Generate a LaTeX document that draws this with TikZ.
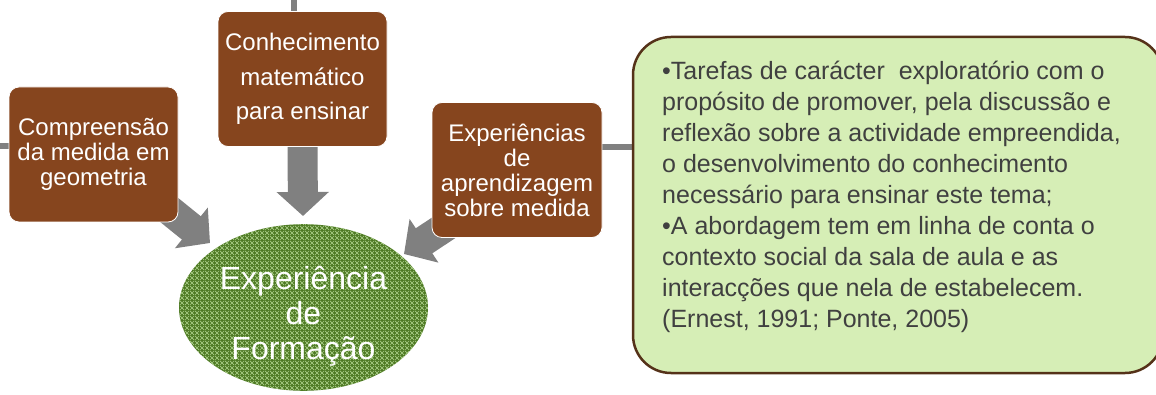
\documentclass[tikz,border=0pt]{standalone}
\usepackage{fontspec}
\setmainfont{Liberation Sans}
\usetikzlibrary{arrows.meta,shapes.geometric,patterns}
\definecolor{boxbrown}{RGB}{134,69,30}
\definecolor{arrowgray}{RGB}{128,128,128}
\definecolor{notegreen}{RGB}{214,238,182}
\definecolor{ellgreen}{RGB}{78,122,36}
\definecolor{hatchgreen}{RGB}{170,205,135}
\definecolor{borderbrown}{RGB}{85,50,25}
\definecolor{textgray}{RGB}{64,64,64}
\pgfdeclarepatternformonly{xgrid}{\pgfqpoint{0pt}{0pt}}{\pgfqpoint{5pt}{5pt}}{\pgfqpoint{5pt}{5pt}}{
  \pgfsetlinewidth{0.8pt}
  \pgfpathmoveto{\pgfqpoint{0pt}{0pt}}\pgfpathlineto{\pgfqpoint{5pt}{5pt}}
  \pgfpathmoveto{\pgfqpoint{0pt}{5pt}}\pgfpathlineto{\pgfqpoint{5pt}{0pt}}
  \pgfusepath{stroke}}
\pgfdeclarelayer{background}
\pgfsetlayers{background,main}
\tikzset{
  brownnode/.style={rectangle, rounded corners=10pt, fill=boxbrown, draw=white, line width=0.8pt,
    text=white, align=center, inner sep=0pt, minimum width=169pt, minimum height=135pt,
    font=\fontsize{24}{25}\selectfont},
  notebox/.style={rectangle, rounded corners=38pt, fill=notegreen, draw=borderbrown, line width=2.5pt,
    minimum width=530pt, minimum height=336pt},
  notetext/.style={anchor=north west, align=left, inner sep=0pt, text=textgray,
    font=\fontsize{25}{31}\selectfont},
  ellnode/.style={ellipse, minimum width=249pt, minimum height=161pt, inner sep=0pt,
    preaction={fill=ellgreen}, pattern=xgrid, pattern color=hatchgreen,
    text=white, align=center, font=\fontsize{32}{35}\selectfont},
  garrow/.style={draw=arrowgray, line width=30pt, -{Triangle[width=51pt,length=24pt]}},
  stub/.style={draw=arrowgray, line width=6pt}
}
\begin{document}
\begin{tikzpicture}[x=1pt,y=-1pt]
\useasboundingbox (0,0) rectangle (1156,395);
\clip (0,0) rectangle (1156,395);

\node[brownnode] (b1) at (93.5,154.5) {Compreensão\\da medida em\\geometria};
\node[brownnode, font=\fontsize{24}{34.5}\selectfont] (b2) at (302.5,79) {Conhecimento\\matemático\\para ensinar};
\node[brownnode, minimum width=170pt] (b3) at (517,170) {Experiências\\de\\aprendizagem\\sobre medida};
\node[notebox] (b4) at (898,205) {};
\node[notetext] (t4) at (662,61) {•Tarefas de carácter~ exploratório com o\\
propósito de promover, pela discussão e\\
reflexão sobre a actividade empreendida,\\
o desenvolvimento do conhecimento\\
necessário para ensinar este tema;\\
•A abordagem tem em linha de conta o\\
contexto social da sala de aula e as\\
interacções que nela de estabelecem.\\
(Ernest, 1991; Ponte, 2005)};
\node[ellnode] (e) at (303.5,307.5) {\rule{0pt}{41pt}Experiência\\de\\Formação};

\coordinate (s1) at (0,146);
\coordinate (s2) at (294,0);
\coordinate (s3) at (603,147);
\coordinate (a1s) at (163,205);
\coordinate (a1e) at (210,243);
\coordinate (a2e) at (303,216);
\coordinate (a3s) at (454,221);
\coordinate (a3e) at (404,254);

\begin{pgfonlayer}{background}
\draw[stub] (s1) -- (s1 -| b1.west);
\draw[stub] (s2) -- (s2 |- b2.north);
\draw[stub] (s3 -| b3.east) -- (s3 -| b4.west);
\draw[garrow] (a1s) -- (a1e);
\draw[garrow] (b2.south) -- (a2e);
\draw[garrow] (a3s) -- (a3e);
\end{pgfonlayer}
\end{tikzpicture}
\end{document}
